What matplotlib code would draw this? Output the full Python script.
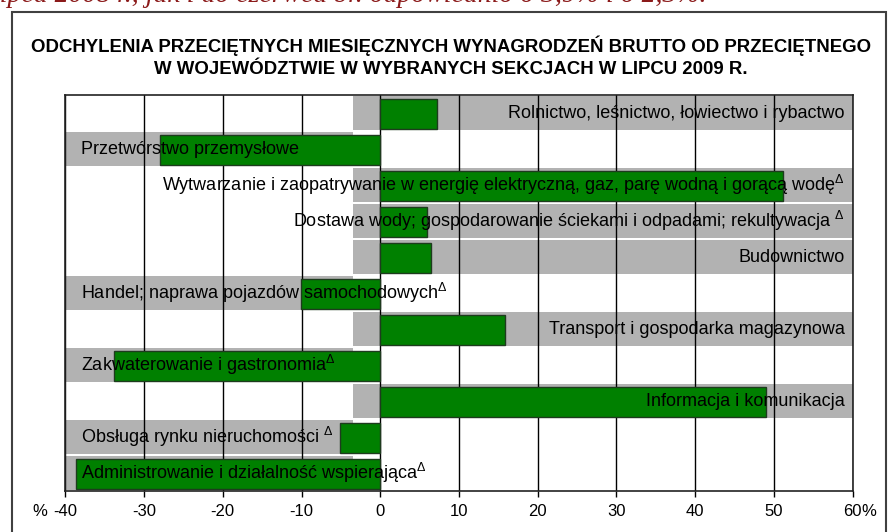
import matplotlib.pyplot as plt
from matplotlib.patches import Rectangle

plt.rcParams['font.family'] = ['Liberation Sans', 'DejaVu Sans']
plt.rcParams['mathtext.fontset'] = 'custom'
plt.rcParams['mathtext.rm'] = 'Liberation Sans'
plt.rcParams['mathtext.it'] = 'Liberation Sans:italic'

# dane
sectors = [
    'Rolnictwo, leśnictwo, łowiectwo i rybactwo',
    'Przetwórstwo przemysłowe',
    'Wytwarzanie i zaopatrywanie w energię elektryczną, gaz, parę wodną i gorącą wodę',
    'Dostawa wody; gospodarowanie ściekami i odpadami; rekultywacja ',
    'Budownictwo',
    'Handel; naprawa pojazdów samochodowych',
    'Transport i gospodarka magazynowa',
    'Zakwaterowanie i gastronomia',
    'Informacja i komunikacja',
    'Obsługa rynku nieruchomości ',
    'Administrowanie i działalność wspierająca',
]
values = [7.2, -28.0, 51.2, 5.9, 6.4, -10.1, 15.8, -33.8, 49.0, -5.1, -38.7]
delta = [False, False, True, True, False, True, False, True, False, True, True]
xticks = [-40, -30, -20, -10, 0, 10, 20, 30, 40, 50, 60]
xticklabels = ['-40', '-30', '-20', '-10', '0', '10', '20', '30', '40', '50', '60']

title = ('ODCHYLENIA PRZECIĘTNYCH MIESIĘCZNYCH WYNAGRODZEŃ BRUTTO OD PRZECIĘTNEGO\n'
         'W WOJEWÓDZTWIE W WYBRANYCH SEKCJACH W LIPCU 2009 R.')
top_text = 'lipca 2008 r., jak i do czerwca br. odpowiednio o 3,9% i o 2,3%.'

W, H = 890, 532
fig = plt.figure(figsize=(W / 100, H / 100), dpi=100)

# tekst nad ramką (ucięty u góry, jak w oryginale)
fig.text(-8 / W, 1 - 2 / H, top_text, family='Liberation Serif', style='italic',
         fontsize=20, color='#8b1a1a', ha='left', va='baseline')

# ramka wykresu
fig.patches.append(Rectangle((12 / W, -0.1), (886 - 12) / W, 1.1 - 12 / H,
                             transform=fig.transFigure, fill=False,
                             edgecolor='#404040', lw=1.5))

fig.text(451 / W, 1 - 56.5 / H, title, ha='center', va='center', fontsize=13.4,
         fontweight='bold', linespacing=1.42)

ax = fig.add_axes([65.3 / W, 1 - 491 / H, (852.7 - 65.3) / W, 396 / H])
n = len(values)
ypos = list(range(n))
xmin, xmax, split = -40, 60, -3.5

# szare pasy pod etykietami
band_left = [xmin if v < 0 else split for v in values]
band_w = [(split - xmin) if v < 0 else (xmax - split) for v in values]
ax.barh(ypos, band_w, left=band_left, height=0.93, color='#b2b2b2', zorder=1)

# słupki
ax.barh([y + 0.03 for y in ypos], values, height=0.83, color='#008000',
        edgecolor='#1e3b1e', lw=1, zorder=2.5)

for y, s, v, d in zip(ypos, sectors, values, delta):
    lab = s + (r'$^{\Delta}$' if d else '')
    if v < 0:
        ax.text(-38.0, y, lab, ha='left', va='center', fontsize=13, zorder=4)
    else:
        ax.text(59.0, y, lab, ha='right', va='center', fontsize=13, zorder=4)

ax.set_xlim(xmin, xmax)
ax.set_ylim(n - 0.5, -0.5)
ax.set_xticks(xticks)
ax.set_xticklabels(xticklabels)
ax.set_yticks([])
ax.set_axisbelow('line')
ax.xaxis.grid(True, color='black', lw=1)
ax.tick_params(axis='x', length=4, width=1, direction='out', labelsize=12, pad=5)
for sp in ax.spines.values():
    sp.set_color('#222222')
    sp.set_linewidth(1.2)

ax.text(-0.033, -0.051, '%', transform=ax.transAxes, ha='center', va='center', fontsize=12)
ax.text(1.021, -0.051, '%', transform=ax.transAxes, ha='center', va='center', fontsize=12)

fig.savefig('out.png', dpi=100)
